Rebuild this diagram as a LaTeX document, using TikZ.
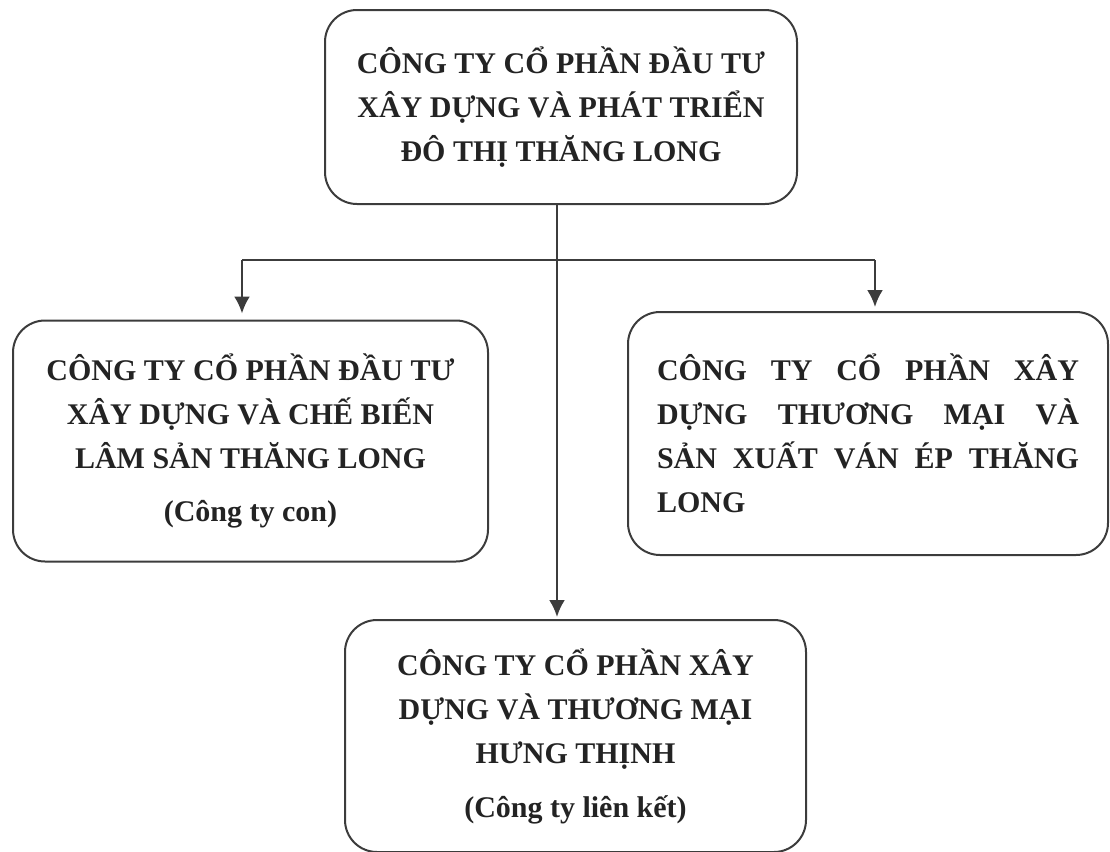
\documentclass[tikz,border=0pt]{standalone}
\usepackage{fontspec}
\setmainfont{Liberation Serif}
\usepackage{tikz}
\usetikzlibrary{arrows.meta}
\usepackage{xcolor}
\definecolor{linegray}{RGB}{60,60,60}
\definecolor{textgray}{RGB}{35,35,35}

\begin{document}
\begin{tikzpicture}[x=0.5pt, y=-0.5pt,
    orgbox/.style={draw=linegray, line width=1pt, rounded corners=16pt,
        align=center, text=textgray, inner sep=0pt,
        font=\fontsize{15}{22}\selectfont\bfseries},
    link/.style={draw=linegray, line width=1.2pt},
    tip/.style={-{Latex[length=8.5pt,width=8pt]}}]
    \useasboundingbox (0,0) rectangle (1110,852);

    % Parent company
    \node[orgbox, minimum width=236pt, minimum height=97pt] (hq) at (561,107)
        {CÔNG TY CỔ PHẦN ĐẦU TƯ\\XÂY DỰNG VÀ PHÁT TRIỂN\\ĐÔ THỊ THĂNG LONG};

    % Subsidiary
    \node[orgbox, minimum width=237.5pt, minimum height=120.5pt] (sub) at (250.5,441)
        {CÔNG TY CỔ PHẦN ĐẦU TƯ\\XÂY DỰNG VÀ CHẾ BIẾN\\LÂM SẢN THĂNG LONG\\[4.5pt](Công ty con)};

    % Plywood company
    \node[orgbox, minimum width=240pt, minimum height=121.5pt, align=justify,
        text width=211pt] (ven) at (868,433.5)
        {\tolerance=10000\hbadness=10000
         CÔNG TY CỔ PHẦN XÂY\linebreak DỰNG THƯƠNG MẠI VÀ\linebreak
         SẢN XUẤT VÁN ÉP THĂNG\linebreak LONG};

    % Associate
    \node[orgbox, minimum width=230.5pt, minimum height=116pt] (assoc) at (575.5,736)
        {CÔNG TY CỔ PHẦN XÂY\\DỰNG VÀ THƯƠNG MẠI\\HƯNG THỊNH\\[5pt](Công ty liên kết)};

    % Connectors
    \coordinate (split) at (557,260);
    \coordinate (lt) at (242,260);
    \coordinate (rt) at (875,260);
    \draw[link] (lt) -- (rt);
    \draw[link, tip, shorten >=3pt] (lt) -- (lt |- sub.north);
    \draw[link, tip, shorten >=2pt] (rt) -- (rt |- ven.north);
    \draw[link, tip, shorten >=1pt] (hq.south -| split) -- (split |- assoc.north);
\end{tikzpicture}
\end{document}
